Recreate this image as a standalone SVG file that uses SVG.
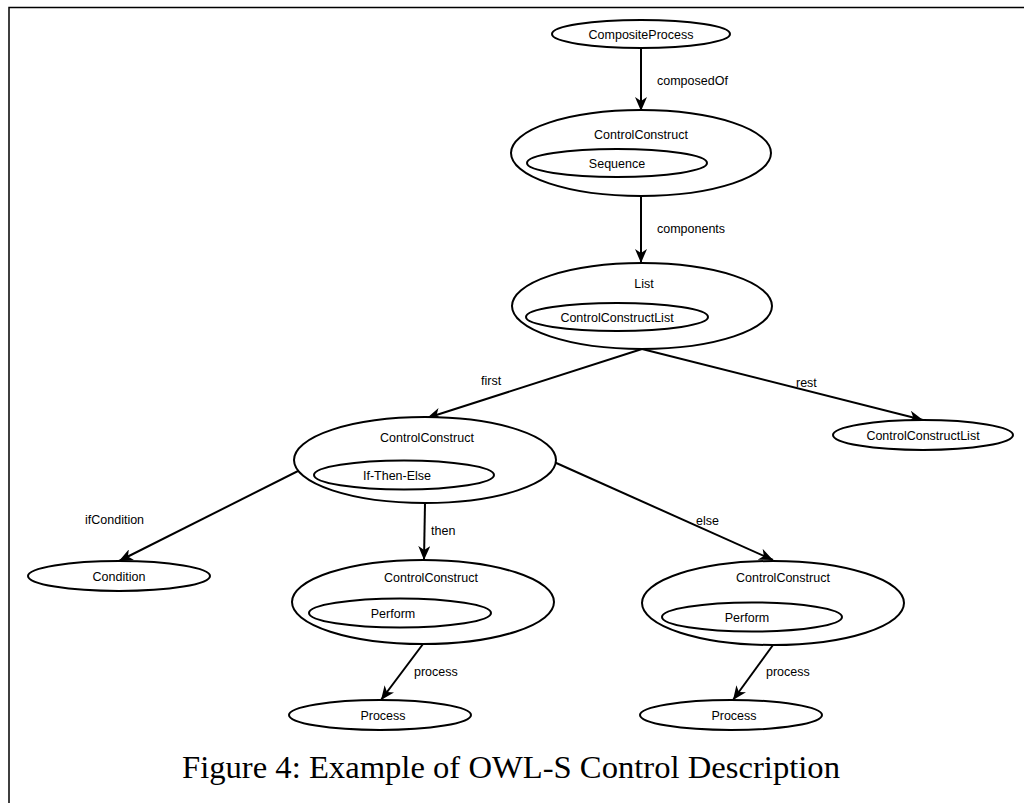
<svg xmlns="http://www.w3.org/2000/svg" width="1024" height="803" viewBox="0 0 1024 803">
  <defs>
    <marker id="arrow" viewBox="0 0 14 12" refX="14" refY="6" markerWidth="14" markerHeight="12" orient="auto" markerUnits="userSpaceOnUse">
      <path d="M0,0 L14,6 L0,12 L4,6 z" fill="#000"/>
    </marker>
    <style>
      .node { fill: #fff; stroke: #000; stroke-width: 2; }
      .inner { fill: none; stroke: #000; stroke-width: 2; }
      .label { font-family: "Liberation Sans", Arial, sans-serif; font-size: 12.5px; fill: #000; text-anchor: middle; }
      .edge { stroke: #000; stroke-width: 2; fill: none; marker-end: url(#arrow); }
      .elabel { font-family: "Liberation Sans", Arial, sans-serif; font-size: 12.5px; fill: #000; }
      .frame { stroke: #000; stroke-width: 1.5; fill: none; }
      .caption { font-family: "Liberation Serif", "Times New Roman", serif; font-size: 31px; fill: #000; }
    </style>
  </defs>
  <rect width="1024" height="803" fill="#fff"/>

  <!-- page frame -->
  <path class="frame" d="M9,803 L9,7.5 L1024,7.5"/>

  <!-- connectors -->
  <g id="connectors">
    <line class="edge" x1="641" y1="48" x2="641" y2="111"/>
    <text class="elabel" x="657" y="85">composedOf</text>
    <line class="edge" x1="641" y1="197" x2="641" y2="263"/>
    <text class="elabel" x="657" y="233">components</text>
    <line class="edge" x1="642" y1="349" x2="427" y2="418"/>
    <text class="elabel" x="481" y="385">first</text>
    <line class="edge" x1="642" y1="349" x2="923" y2="420"/>
    <text class="elabel" x="796" y="387">rest</text>
    <line class="edge" x1="314" y1="463" x2="119" y2="561"/>
    <text class="elabel" x="85" y="524">ifCondition</text>
    <line class="edge" x1="425" y1="503" x2="424" y2="560"/>
    <text class="elabel" x="431" y="535">then</text>
    <line class="edge" x1="554" y1="462" x2="773" y2="560"/>
    <text class="elabel" x="696" y="525">else</text>
    <line class="edge" x1="423" y1="644" x2="381" y2="700"/>
    <text class="elabel" x="414" y="676">process</text>
    <line class="edge" x1="773" y1="645" x2="733" y2="700"/>
    <text class="elabel" x="766" y="676">process</text>
  </g>

  <g id="compositeProcess">
    <ellipse class="node" cx="641" cy="34" rx="89" ry="14"/>
    <text class="label" x="641" y="38.5">CompositeProcess</text>
  </g>

  <g id="controlConstructSequence">
    <ellipse class="node" cx="641" cy="153" rx="130" ry="43"/>
    <text class="label" x="641" y="139">ControlConstruct</text>
    <ellipse class="inner" cx="617" cy="163" rx="90" ry="14"/>
    <text class="label" x="617" y="167.5">Sequence</text>
  </g>

  <g id="list">
    <ellipse class="node" cx="642" cy="306" rx="130" ry="43"/>
    <text class="label" x="644" y="288">List</text>
    <ellipse class="inner" cx="617" cy="317" rx="91" ry="14"/>
    <text class="label" x="617" y="321.5">ControlConstructList</text>
  </g>

  <g id="restList">
    <ellipse class="node" cx="923" cy="435" rx="90" ry="15"/>
    <text class="label" x="923" y="439.5">ControlConstructList</text>
  </g>

  <g id="controlConstructIfThenElse">
    <ellipse class="node" cx="425" cy="460" rx="131" ry="43"/>
    <text class="label" x="427" y="442">ControlConstruct</text>
    <ellipse class="inner" cx="404" cy="475" rx="90" ry="14.5"/>
    <text class="label" x="397" y="479.5">If-Then-Else</text>
  </g>

  <g id="condition">
    <ellipse class="node" cx="119" cy="576" rx="91" ry="15"/>
    <text class="label" x="119" y="580.5">Condition</text>
  </g>

  <g id="controlConstructPerformThen">
    <ellipse class="node" cx="423" cy="602" rx="131" ry="42"/>
    <text class="label" x="431" y="582">ControlConstruct</text>
    <ellipse class="inner" cx="400" cy="613" rx="91" ry="14.5"/>
    <text class="label" x="393" y="617.5">Perform</text>
  </g>

  <g id="controlConstructPerformElse">
    <ellipse class="node" cx="773" cy="603" rx="131" ry="42"/>
    <text class="label" x="783" y="582">ControlConstruct</text>
    <ellipse class="inner" cx="752" cy="617" rx="90" ry="14.5"/>
    <text class="label" x="747" y="621.5">Perform</text>
  </g>

  <g id="processThen">
    <ellipse class="node" cx="380" cy="715" rx="91" ry="15"/>
    <text class="label" x="383" y="719.5">Process</text>
  </g>

  <g id="processElse">
    <ellipse class="node" cx="731" cy="715" rx="91" ry="15"/>
    <text class="label" x="734" y="719.5">Process</text>
  </g>

  <text class="caption" x="182" y="778" textLength="658" lengthAdjust="spacingAndGlyphs">Figure 4: Example of OWL-S Control Description</text>
</svg>
